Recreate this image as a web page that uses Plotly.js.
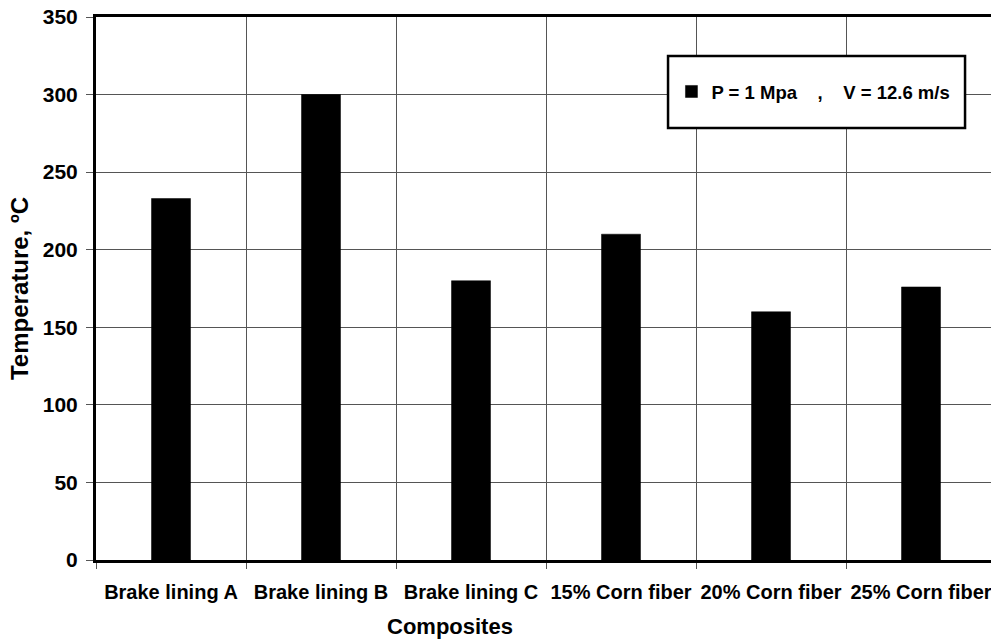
<!DOCTYPE html>
<html>
<head>
<meta charset="utf-8">
<script src="https://cdn.plot.ly/plotly-3.0.1.min.js"></script>
<style>
html, body { margin: 0; padding: 0; overflow: hidden; background: #fff; }
#chart { width: 1000px; height: 644px; }
</style>
</head>
<body>
<div id="chart"></div>
<script>
const categories = ["Brake lining A", "Brake lining B", "Brake lining C", "15% Corn fiber", "20% Corn fiber", "25% Corn fiber"];
const temperatures = [233, 300, 180, 210, 160, 176];
const seriesName = "P = 1 Mpa\u00a0\u00a0\u00a0\u00a0,\u00a0\u00a0\u00a0\u00a0V = 12.6 m/s";
const yTickValues = [0, 50, 100, 150, 200, 250, 300, 350];

const FONT = "Arial, 'Liberation Sans', sans-serif";

const trace = {
  type: "bar",
  x: categories,
  y: temperatures,
  name: seriesName,
  width: 0.26,
  marker: { color: "#000000", line: { color: "#000000", width: 0.5 } },
  showlegend: true
};

const layout = {
  width: 1000,
  height: 644,
  margin: { l: 96, r: 4, t: 17, b: 84 },
  paper_bgcolor: "#ffffff",
  plot_bgcolor: "#ffffff",
  font: { family: FONT, color: "#000000" },
  showlegend: true,
  legend: {
    x: 0.6394, y: 0.862, xanchor: "left", yanchor: "middle",
    bgcolor: "rgba(0,0,0,0)", borderwidth: 0,
    font: { family: FONT, size: 18.5, color: "#000", weight: "bold" }
  },
  xaxis: {
    type: "category",
    tickson: "boundaries",
    tickangle: 0,
    ticks: "outside", ticklen: 6, tickcolor: "#555", tickwidth: 1,
    showgrid: true, gridcolor: "#555", gridwidth: 1,
    showline: true, linecolor: "#000", linewidth: 3, mirror: true,
    tickfont: { family: FONT, size: 20, color: "#000", weight: "bold" },
    ticklabelstandoff: 12,
    fixedrange: true
  },
  yaxis: {
    range: [0, 350],
    tickvals: yTickValues,
    ticktext: yTickValues.map(String),
    ticks: "outside", ticklen: 7, tickcolor: "#555", tickwidth: 1,
    showgrid: true, gridcolor: "#555", gridwidth: 1,
    showline: true, linecolor: "#000", linewidth: 3, mirror: true,
    zeroline: false,
    tickfont: { family: FONT, size: 21, color: "#000", weight: "bold" },
    ticklabelstandoff: 4,
    title: { text: "Temperature, ºC", font: { family: FONT, size: 24, color: "#000", weight: "bold" }, standoff: 8 },
    fixedrange: true
  },
  shapes: [{
    type: "rect", xref: "paper", yref: "paper",
    x0: 0.6356, x1: 0.9656, y0: 0.7956, y1: 0.9282,
    line: { color: "#000", width: 2.5 }, fillcolor: "#ffffff", layer: "above"
  }],
  annotations: [{
    text: "Composites", xref: "paper", yref: "paper",
    x: 0.3933, y: -0.123, xanchor: "center", yanchor: "middle",
    showarrow: false,
    font: { family: FONT, size: 22, color: "#000", weight: "bold" }
  }]
};

Plotly.newPlot("chart", [trace], layout, { displayModeBar: false, staticPlot: true });
</script>
</body>
</html>
